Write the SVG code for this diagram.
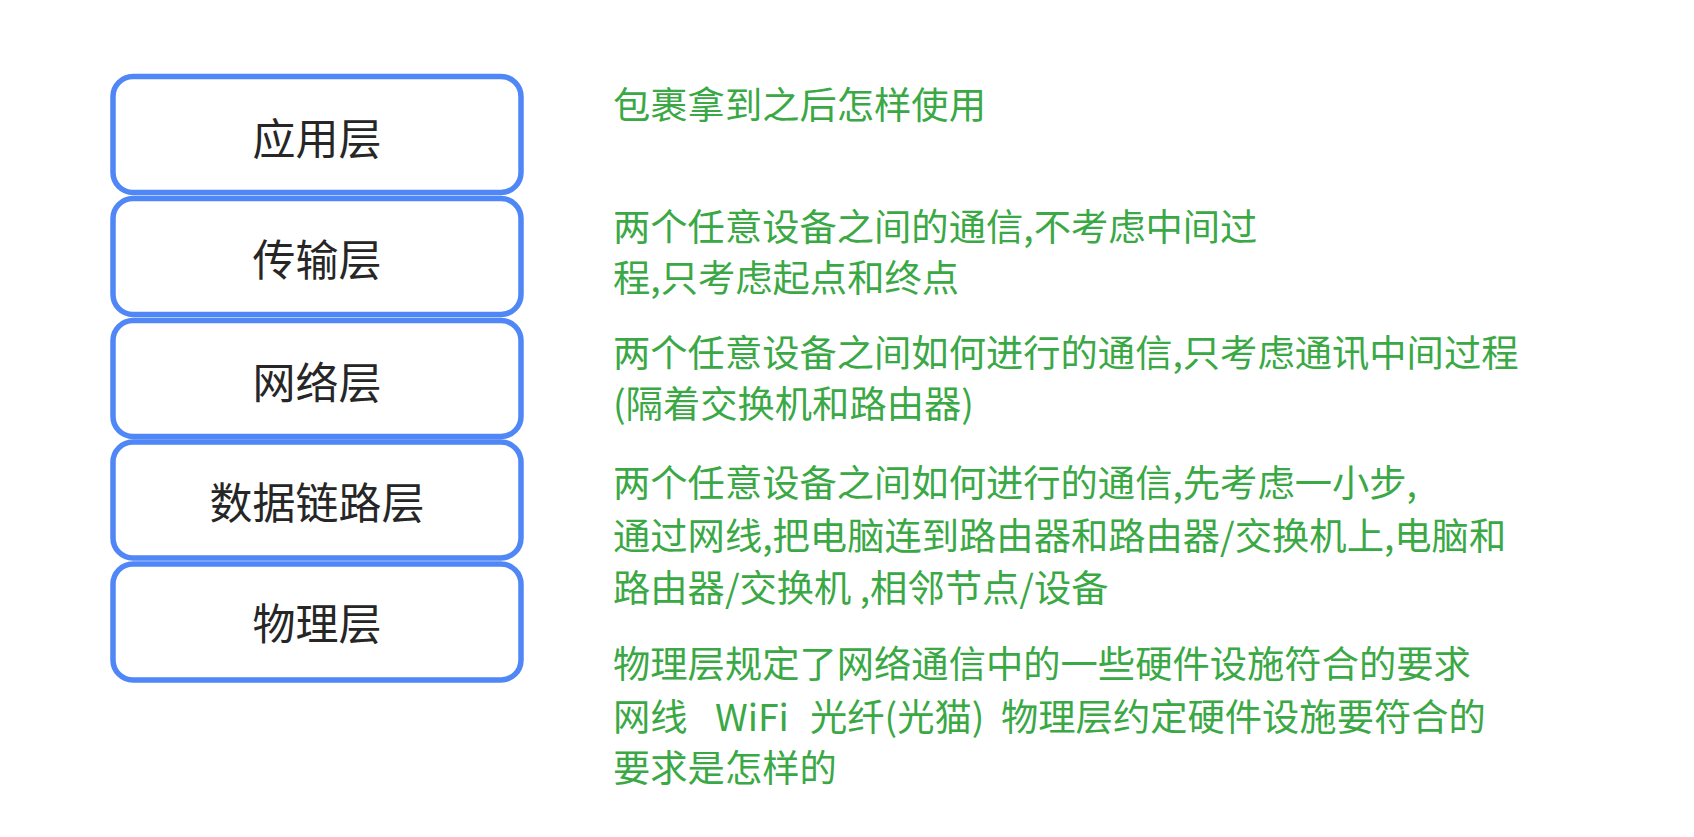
<svg xmlns="http://www.w3.org/2000/svg" width="1694" height="837" viewBox="0 0 1694 837">
<style>
.box{fill:#ffffff;stroke:#5087f6;stroke-width:5.5}
.lbl{font-family:"Noto Sans CJK SC","Noto Sans",sans-serif;font-size:43px;fill:#262626;text-anchor:middle}
.desc{font-family:"Noto Sans CJK SC","Noto Sans",sans-serif;font-size:37.3px;fill:#3aa845}
</style>
<rect width="1694" height="837" fill="#ffffff"/>
<g id="connectors"/>
<g id="node-app">
<rect class="box" x="113" y="76.5" width="408" height="116" rx="20"/>
<text class="lbl" x="317" y="154.5">应用层</text>
</g>
<g id="node-transport">
<rect class="box" x="113" y="198.5" width="408" height="116" rx="20"/>
<text class="lbl" x="317" y="276">传输层</text>
</g>
<g id="node-network">
<rect class="box" x="113" y="320.5" width="408" height="116" rx="20"/>
<text class="lbl" x="317" y="398.5">网络层</text>
</g>
<g id="node-datalink">
<rect class="box" x="113" y="442" width="408" height="116" rx="20"/>
<text class="lbl" x="317" y="518.5">数据链路层</text>
</g>
<g id="node-physical">
<rect class="box" x="113" y="564" width="408" height="116" rx="20"/>
<text class="lbl" x="317" y="640">物理层</text>
</g>
<g id="desc-app">
<text class="desc" x="613" y="118.5">包裹拿到之后怎样使用</text>
</g>
<g id="desc-transport">
<text class="desc" x="613" y="240.7">两个任意设备之间的通信,不考虑中间过</text>
<text class="desc" x="613" y="292.3">程,只考虑起点和终点</text>
</g>
<g id="desc-network">
<text class="desc" x="613" y="367.3">两个任意设备之间如何进行的通信,只考虑通讯中间过程</text>
<text class="desc" x="613" y="418">(隔着交换机和路由器)</text>
</g>
<g id="desc-datalink">
<text class="desc" x="613" y="496.5">两个任意设备之间如何进行的通信,先考虑一小步,</text>
<text class="desc" x="613" y="549.8">通过网线,把电脑连到路由器和路由器/交换机上,电脑和</text>
<text class="desc" x="613" y="602.3">路由器/交换机 ,相邻节点/设备</text>
</g>
<g id="desc-physical">
<text class="desc" x="613" y="678">物理层规定了网络通信中的一些硬件设施符合的要求</text>
<text class="desc" y="730.7"><tspan x="613">网线</tspan><tspan x="715">WiFi</tspan><tspan x="810">光纤(光猫)</tspan><tspan x="1001">物理层约定硬件设施要符合的</tspan></text>
<text class="desc" x="613" y="782.3">要求是怎样的</text>
</g>
</svg>
